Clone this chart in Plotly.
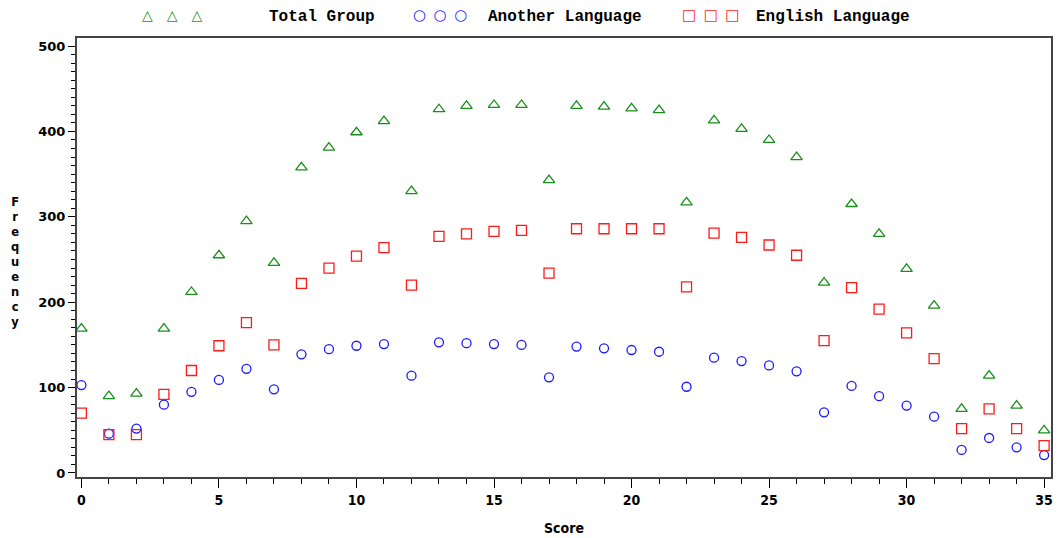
import plotly.graph_objects as go

# Score distribution by language group
scores = list(range(36))
total_group = [169, 90, 93, 169, 212, 255, 295, 246, 358, 381, 399, 412, 330, 426,
               430, 431, 431, 343, 430, 429, 427, 425, 317, 413, 403, 390, 370, 223,
               315, 280, 239, 196, 75, 114, 79, 50]
another_language = [103, 46, 52, 80, 95, 109, 122, 98, 139, 145, 149, 151, 114, 153,
                    152, 151, 150, 112, 148, 146, 144, 142, 101, 135, 131, 126, 119, 71,
                    102, 90, 79, 66, 27, 41, 30, 21]
english_language = [70, 45, 45, 92, 120, 149, 176, 150, 222, 240, 254, 264, 220, 277,
                    280, 283, 284, 234, 286, 286, 286, 286, 218, 281, 276, 267, 255, 155,
                    217, 192, 164, 134, 52, 75, 52, 32]

series_names = ["Total Group", "Another Language", "English Language"]
series_values = [total_group, another_language, english_language]
series_symbols = ["triangle-up-open", "circle-open", "square-open"]
series_colors = ["#1b8f1b", "#1a1aff", "#ff1a1a"]
series_sizes = [10, 9, 10]
legend_glyphs = ["\u25b3\u2002\u2002\u25b3\u2002\u2002\u25b3",
                 "\u25cb\u2002\u25cb\u2002\u25cb",
                 "\u25a1\u2002\u25a1\u2002\u25a1"]
legend_glyph_sizes = [14, 15, 15]

W, H = 1057, 538
L, R, T, B = 77, 4, 38, 61

fig = go.Figure()
for name, vals, sym, col, sz in zip(series_names, series_values, series_symbols,
                                    series_colors, series_sizes):
    fig.add_trace(go.Scatter(
        x=scores, y=vals, mode="markers", name=name, showlegend=False,
        marker=dict(symbol=sym, size=sz, color=col, line=dict(width=1.3, color=col)),
        cliponaxis=False,
    ))

# Legend row above the plot frame
def px_to_paper(px):
    return (px - L) / (W - L - R)

def py_to_paper(py):
    return 1 + (T - py) / (H - T - B)

legend_glyph_x = [173, 441, 712]
legend_text_x = [323, 566, 835]
annotations = []
for g, gs, gx, name, tx, col in zip(legend_glyphs, legend_glyph_sizes, legend_glyph_x,
                                    series_names, legend_text_x, series_colors):
    annotations.append(dict(
        text=g, x=px_to_paper(gx), y=py_to_paper(15), xref="paper",
        yref="paper", showarrow=False, xanchor="center", yanchor="middle",
        font=dict(family="DejaVu Sans", size=gs, color=col)))
    annotations.append(dict(
        text=name, x=px_to_paper(tx), y=py_to_paper(17), xref="paper",
        yref="paper", showarrow=False, xanchor="center", yanchor="middle",
        font=dict(family="Liberation Mono, DejaVu Sans Mono", size=16,
                  color="black", weight="bold")))

# Vertical stacked axis title
annotations.append(dict(
    text="<br>".join("Frequency"), x=-(L - 15) / (W - L - R), y=py_to_paper(262),
    xref="paper", yref="paper", showarrow=False, xanchor="center", yanchor="middle",
    align="center",
    font=dict(family="DejaVu Sans", size=11.5, color="black", weight="bold")))

axis_line = "#444444"
narrow = "DejaVu Sans Condensed, Liberation Sans Narrow, Liberation Sans"
fig.update_layout(
    width=W, height=H,
    margin=dict(l=L, r=R, t=T, b=B, pad=0),
    paper_bgcolor="white", plot_bgcolor="white",
    annotations=annotations,
    xaxis=dict(
        range=[-0.16, 35.25], tickmode="linear", tick0=0, dtick=5,
        ticks="outside", ticklen=9, tickwidth=1.2, tickcolor="black",
        minor=dict(dtick=1, ticks="outside", ticklen=5, tickwidth=1, tickcolor="black"),
        showgrid=False, zeroline=False,
        showline=True, linecolor=axis_line, linewidth=2, mirror=True,
        tickfont=dict(family=narrow, size=14, color="black", weight="bold"),
        title=dict(text="Score", standoff=16,
                   font=dict(family=narrow, size=14, color="black", weight="bold")),
    ),
    yaxis=dict(
        range=[-4.7, 509.4], tickmode="linear", tick0=0, dtick=100,
        ticks="outside", ticklen=7, tickwidth=1.2, tickcolor="black",
        minor=dict(dtick=10, ticks="outside", ticklen=4, tickwidth=1, tickcolor="black"),
        showgrid=False, zeroline=False,
        showline=True, linecolor=axis_line, linewidth=2, mirror=True,
        tickfont=dict(family="DejaVu Sans", size=13, color="black", weight="bold"),
    ),
)

fig.write_html("out.html")
